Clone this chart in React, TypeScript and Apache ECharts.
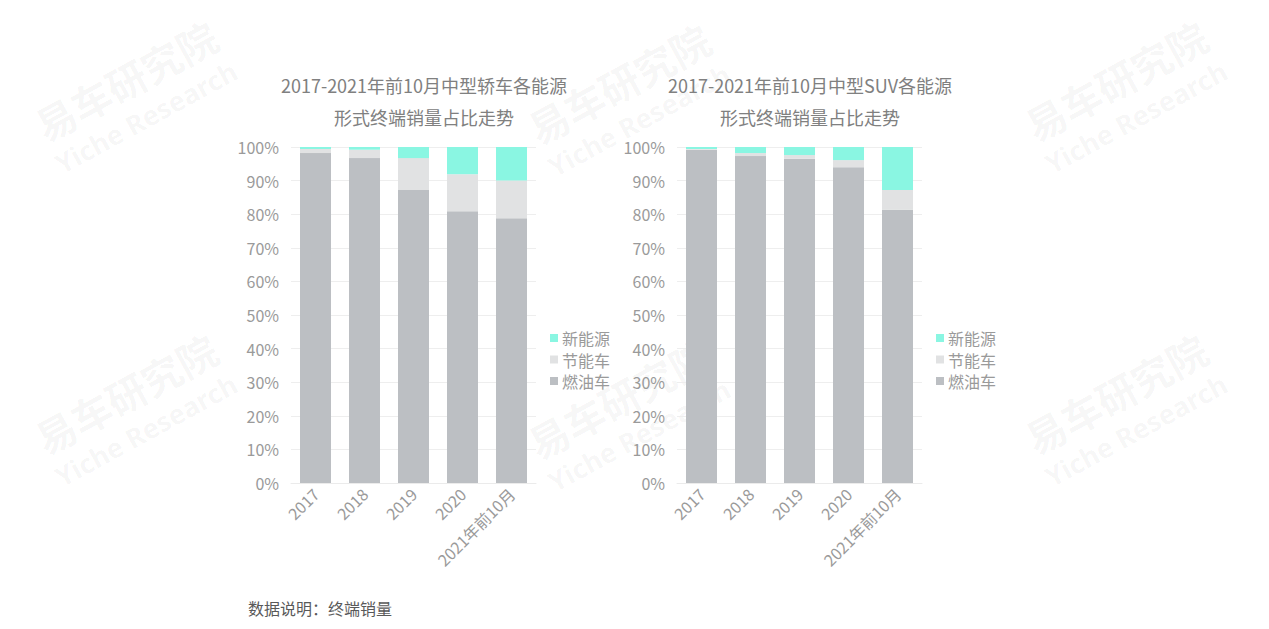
import React, { useEffect, useRef } from "react";
import * as echarts from "echarts";

const categories = ["2017", "2018", "2019", "2020", "2021年前10月"];
const seriesNames = ["燃油车", "节能车", "新能源"];
const yTicks = [0, 10, 20, 30, 40, 50, 60, 70, 80, 90, 100];

// 中型轿车
const sedanFuel = [98.2, 96.7, 87.2, 80.9, 78.8];
const sedanSaving = [1.2, 2.5, 9.5, 11.0, 11.2];
const sedanNew = [0.6, 0.8, 3.3, 8.1, 10.0];

// 中型SUV
const suvFuel = [99.2, 97.3, 96.5, 94.0, 81.3];
const suvSaving = [0.2, 0.9, 1.1, 2.1, 5.9];
const suvNew = [0.6, 1.8, 2.4, 3.9, 12.8];

const titleLeft = "2017-2021年前10月中型轿车各能源\n形式终端销量占比走势";
const titleRight = "2017-2021年前10月中型SUV各能源\n形式终端销量占比走势";
const footnote = "数据说明：终端销量";

const COLORS = ["#BCBFC3", "#E1E2E3", "#8AF6E2"];
const FONT = '"Noto Sans CJK SC", "Noto Sans", sans-serif';

export default function App() {
  const ref = useRef<HTMLDivElement>(null);
  useEffect(() => {
    if (!ref.current) return;
    const chart = echarts.init(ref.current, undefined, { renderer: "svg" });

    const grids = [
      { left: 291, top: 147, width: 245, height: 336 },
      { left: 677, top: 147, width: 245, height: 336 },
    ];

    const xAxes = grids.map((_, i) => ({
      type: "category",
      gridIndex: i,
      data: categories,
      axisLine: { lineStyle: { color: "#EBEBEB" } },
      axisTick: { show: false },
      axisLabel: {
        rotate: 45,
        color: "#9A9A9A",
        fontSize: 16,
        fontFamily: FONT,
        margin: 8,
        interval: 0,
      },
    }));

    const yAxes = grids.map((_, i) => ({
      type: "value",
      gridIndex: i,
      min: yTicks[0],
      max: yTicks[yTicks.length - 1],
      interval: 10,
      axisLine: { show: false },
      axisTick: { show: false },
      splitLine: { lineStyle: { color: "#EEEEEE" } },
      axisLabel: {
        formatter: "{value}%",
        color: "#9A9A9A",
        fontSize: 16,
        fontFamily: FONT,
        margin: 12,
      },
    }));

    const mk = (name: string, data: number[], idx: number, color: string) => ({
      name,
      type: "bar",
      stack: "s" + idx,
      xAxisIndex: idx,
      yAxisIndex: idx,
      barWidth: 31,
      data,
      itemStyle: { color },
    });

    const series = [
      mk(seriesNames[0], sedanFuel, 0, COLORS[0]),
      mk(seriesNames[1], sedanSaving, 0, COLORS[1]),
      mk(seriesNames[2], sedanNew, 0, COLORS[2]),
      mk(seriesNames[0], suvFuel, 1, COLORS[0]),
      mk(seriesNames[1], suvSaving, 1, COLORS[1]),
      mk(seriesNames[2], suvNew, 1, COLORS[2]),
    ];

    const legendBase = {
      orient: "vertical",
      top: 330,
      padding: 0,
      itemWidth: 8,
      itemHeight: 8,
      itemGap: 5.5,
      icon: "rect",
      selectedMode: false,
      data: [seriesNames[2], seriesNames[1], seriesNames[0]],
      textStyle: {
        color: "#9A9A9A",
        fontSize: 16,
        lineHeight: 16,
        fontFamily: FONT,
        padding: [0, 0, 0, -1],
      },
    };

    const wmPositions = [
      [135, 97],
      [628, 100],
      [1125, 97],
      [135, 410],
      [628, 415],
      [1125, 410],
    ];
    const watermarks = wmPositions.map(([x, y]) => ({
      type: "group",
      x,
      y,
      rotation: 0.5,
      silent: true,
      z: 100,
      children: [
        {
          type: "text",
          x: 0,
          y: -19,
          style: {
            text: "易车研究院",
            font: 'bold 40px "Noto Sans CJK SC", sans-serif',
            fill: "rgba(0,0,0,0.045)",
            textAlign: "center",
            textVerticalAlign: "middle",
          },
        },
        {
          type: "text",
          x: 0,
          y: 23,
          style: {
            text: "Yiche Research",
            font: 'bold 27px "Noto Sans", sans-serif',
            fill: "rgba(0,0,0,0.045)",
            textAlign: "center",
            textVerticalAlign: "middle",
          },
        },
      ],
    }));

    const titleStyle = {
      color: "#808080",
      fontSize: 18,
      fontWeight: "normal",
      fontFamily: FONT,
      lineHeight: 32,
    };

    chart.setOption({
      animation: false,
      backgroundColor: "#FFFFFF",
      title: [
        { text: titleLeft, left: 424, top: 69, padding: 0, textAlign: "center", textStyle: titleStyle },
        { text: titleRight, left: 810, top: 69, padding: 0, textAlign: "center", textStyle: titleStyle },
        {
          text: footnote,
          left: 248,
          top: 600,
          padding: 0,
          textStyle: { color: "#595959", fontSize: 16, fontWeight: "normal", fontFamily: FONT },
        },
      ],
      legend: [
        { ...legendBase, left: 550 },
        { ...legendBase, left: 936 },
      ],
      grid: grids,
      xAxis: xAxes,
      yAxis: yAxes,
      series,
      graphic: watermarks,
    });
    return () => chart.dispose();
  }, []);

  return (
    <div
      ref={ref}
      style={{ position: "fixed", left: 0, top: 0, width: 1269, height: 629 }}
    />
  );
}
